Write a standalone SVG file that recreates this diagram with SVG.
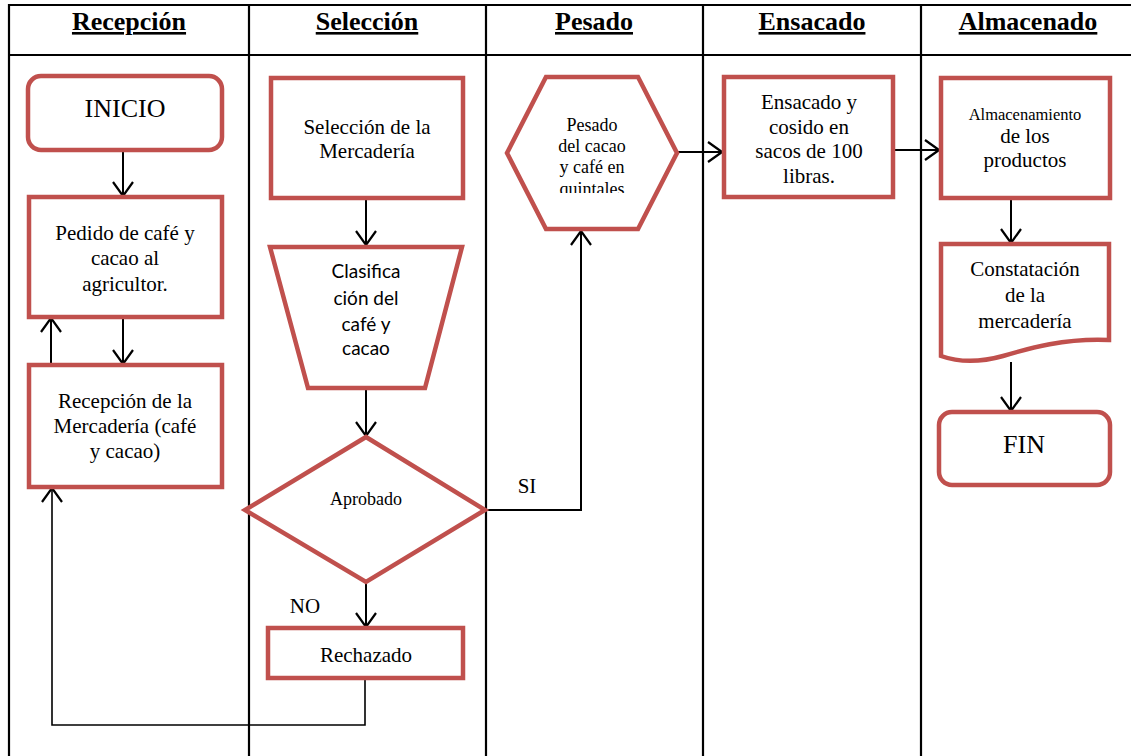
<svg xmlns="http://www.w3.org/2000/svg" width="1131" height="756" viewBox="0 0 1131 756">
<style>
.grid{stroke:#000;stroke-width:2.2;fill:none}
.node{fill:#fff;stroke:#c0504d;stroke-width:4.5}
.con{stroke:#000;stroke-width:2;fill:none}
.thin{stroke:#000;stroke-width:1.6;fill:none}
.hd{font-family:"Liberation Serif",serif;font-weight:bold;font-size:26px;text-anchor:middle;text-decoration:underline;fill:#000}
.t{font-family:"Liberation Serif",serif;font-size:21px;text-anchor:middle;fill:#000}
.big{font-family:"Liberation Serif",serif;font-size:26px;text-anchor:middle;fill:#000}
.s{font-family:"Liberation Serif",serif;font-size:18px;text-anchor:middle;fill:#000}
.xs{font-family:"Liberation Serif",serif;font-size:16.5px;text-anchor:middle;fill:#000}
.c{font-family:Lato,"Liberation Sans",sans-serif;font-size:19px;text-anchor:middle;fill:#000}
</style>
<defs>
<marker id="arr" viewBox="0 0 16 22" refX="15" refY="11" markerWidth="16" markerHeight="22" markerUnits="userSpaceOnUse" orient="auto">
<path d="M1,1 L15,11 L1,21" fill="none" stroke="#000" stroke-width="2.2"/>
</marker>
<clipPath id="hexclip"><rect x="540" y="100" width="110" height="93"/></clipPath>
</defs>
<rect width="1131" height="756" fill="#fff"/>
<g id="table">
<path class="grid" d="M9,756 V5 H1131 M9,55 H1131 M249,5 V756 M486,5 V756 M703,5 V756 M921,5 V756"/>
<text class="hd" x="129" y="30">Recepción</text>
<text class="hd" x="367" y="30">Selección</text>
<text class="hd" x="594" y="30">Pesado</text>
<text class="hd" x="812" y="30">Ensacado</text>
<text class="hd" x="1028" y="30">Almacenado</text>
</g>
<g id="connectors">
<path class="con" d="M123,150 V196" marker-end="url(#arr)"/>
<path class="con" d="M123,317 V364" marker-end="url(#arr)"/>
<path class="con" d="M51,364 V318" marker-end="url(#arr)"/>
<path class="con" d="M366,198 V245" marker-end="url(#arr)"/>
<path class="con" d="M366,388 V436" marker-end="url(#arr)"/>
<path class="con" d="M366,582 V627" marker-end="url(#arr)"/>
<path class="thin" d="M365,678 V725 H52 V488" marker-end="url(#arr)"/>
<path class="con" d="M485,510 H581 V231" marker-end="url(#arr)"/>
<path class="con" d="M677,152 H722" marker-end="url(#arr)"/>
<path class="con" d="M893,150 H939" marker-end="url(#arr)"/>
<path class="con" d="M1011,198 V243" marker-end="url(#arr)"/>
<path class="con" d="M1011,362 V411" marker-end="url(#arr)"/>
<text class="t" x="305" y="613">NO</text>
<text class="t" x="527" y="493">SI</text>
</g>
<g id="inicio">
<rect class="node" x="28" y="76" width="194" height="74" rx="13"/>
<text class="big" x="125" y="117">INICIO</text>
</g>
<g id="pedido">
<rect class="node" x="29" y="197" width="193" height="120"/>
<text class="t" x="125" y="240">Pedido de café y</text>
<text class="t" x="125" y="265">cacao al</text>
<text class="t" x="125" y="291">agricultor.</text>
</g>
<g id="recepcion">
<rect class="node" x="29" y="365" width="193" height="122"/>
<text class="t" x="125" y="408">Recepción de la</text>
<text class="t" x="125" y="433">Mercadería (café</text>
<text class="t" x="125" y="458">y cacao)</text>
</g>
<g id="seleccion">
<rect class="node" x="271" y="78" width="192" height="120"/>
<text class="t" x="367" y="134">Selección de la</text>
<text class="t" x="367" y="158">Mercadería</text>
</g>
<g id="clasificacion">
<path class="node" d="M270,247 H462 L425,388 H308 Z"/>
<text class="c" x="366" y="278">Clasifica</text>
<text class="c" x="366" y="305">ción del</text>
<text class="c" x="366" y="331">café y</text>
<text class="c" x="366" y="355">cacao</text>
</g>
<g id="aprobado">
<path class="node" d="M366,437 L485,510 L366,582 L245,510 Z"/>
<text class="s" x="366" y="505">Aprobado</text>
</g>
<g id="rechazado">
<rect class="node" x="268" y="628" width="195" height="50"/>
<text class="t" x="366" y="662">Rechazado</text>
</g>
<g id="pesado">
<path class="node" d="M507,153 L546,77 H638 L677,153 L638,229 H546 Z"/>
<g clip-path="url(#hexclip)">
<text class="s" x="592" y="131">Pesado</text>
<text class="s" x="592" y="152">del cacao</text>
<text class="s" x="592" y="173">y café en</text>
<text class="s" x="592" y="195">quintales</text>
</g>
</g>
<g id="ensacado">
<rect class="node" x="724" y="77" width="169" height="120"/>
<text class="t" x="809" y="109">Ensacado y</text>
<text class="t" x="809" y="134">cosido en</text>
<text class="t" x="809" y="158">sacos de 100</text>
<text class="t" x="809" y="183">libras.</text>
</g>
<g id="almacenamiento">
<rect class="node" x="941" y="78" width="169" height="120"/>
<text class="xs" x="1025" y="120">Almacenamiento</text>
<text class="t" x="1025" y="143">de los</text>
<text class="t" x="1025" y="167">productos</text>
</g>
<g id="constatacion">
<path class="node" d="M941,244 H1109 V340 C1065,338 1030,348 1003,356 C978,363 958,362 941,356 Z"/>
<text class="t" x="1025" y="276">Constatación</text>
<text class="t" x="1025" y="302">de la</text>
<text class="t" x="1025" y="328">mercadería</text>
</g>
<g id="fin">
<rect class="node" x="939" y="412" width="171" height="73" rx="13"/>
<text class="big" x="1024" y="453">FIN</text>
</g>
</svg>
